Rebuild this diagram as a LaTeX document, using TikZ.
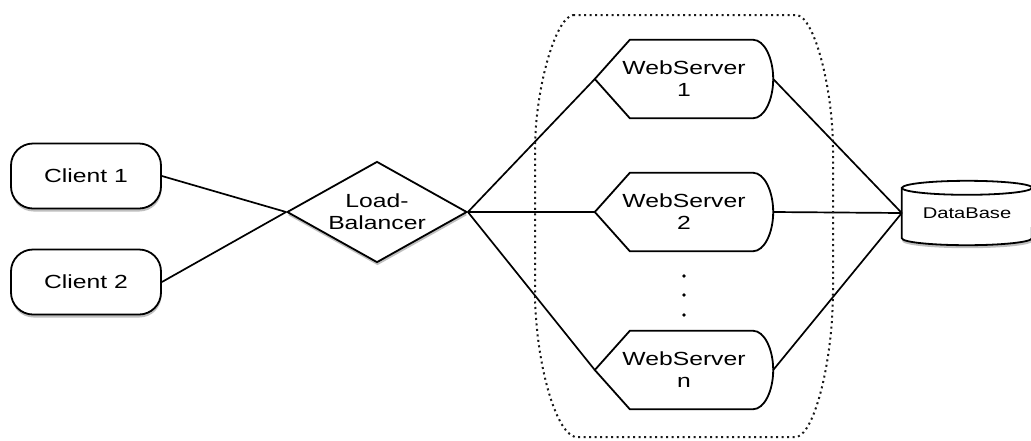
\documentclass[tikz,border=0pt]{standalone}
\usepackage{fontspec}
\setmainfont[FakeStretch=1.3]{Liberation Sans}
\usetikzlibrary{shapes.geometric,shadows,calc,backgrounds}

\tikzset{
  softshadow/.style={drop shadow={shadow xshift=0.5pt, shadow yshift=-3pt, opacity=0.25, fill=black}},
  label18/.style={font=\fontsize{19}{22}\selectfont, align=center, text=black},
  clientbox/.style={label18, draw, line width=1.8pt, rounded corners=22pt,
    minimum width=150pt, minimum height=65pt, fill=white, softshadow},
  balancer/.style={label18, draw, line width=1.8pt, diamond, aspect=1.78, inner sep=0pt,
    minimum width=180pt, minimum height=101pt, fill=white, softshadow},
  serverbox/.style={label18, inner sep=0pt, minimum width=178pt, minimum height=78pt},
  serverline/.style={draw, line width=1.8pt, fill=white},
  dbbox/.style={font=\fontsize{15.5}{18}\selectfont, inner sep=0pt, minimum width=130pt, minimum height=50pt},
  link/.style={line width=1.7pt, black},
  group/.style={line width=2pt, dash pattern=on 2pt off 3.5pt, black!90}
}

% outline of a web server: pointed left end, rounded right end
\newcommand\serveroutline[1]{%
  \path[serverline] (#1.west) -- ($(#1.north west)+(35,0)$) -- ($(#1.north east)+(-20,0)$)
    .. controls ($(#1.north east)+(-9,0)$) and ($(#1.east)+(0,-21)$) .. (#1.east)
    .. controls ($(#1.east)+(0,21)$) and ($(#1.south east)+(-9,0)$) .. ($(#1.south east)+(-20,0)$)
    -- ($(#1.south west)+(35,0)$) -- cycle;}

\begin{document}
\begin{tikzpicture}[x=1pt,y=-1pt]
\useasboundingbox (0,0) rectangle (1031,440);

% clients and balancer
\node[clientbox] (c1) at (86,176) {Client 1};
\node[clientbox] (c2) at (86,282) {Client 2};
\node[balancer] (lb) at (377,212) {Load-\\Balancer};

% web servers
\node[serverbox] (ws1) at (684,79) {WebServer\\1};
\node[serverbox] (ws2) at (684,212) {WebServer\\2};
\node[serverbox] (wsn) at (684,370) {WebServer\\n};

% database
\node[dbbox] (db) at (967,213) {DataBase};

\begin{scope}[on background layer]
  \serveroutline{ws1}
  \serveroutline{ws2}
  \serveroutline{wsn}
  \path[draw, line width=1.8pt, fill=white, softshadow]
    (db.north west) -- (db.south west)
    arc[start angle=180, end angle=0, x radius=65, y radius=7]
    -- (db.north east)
    arc[start angle=0, end angle=-180, x radius=65, y radius=7] -- cycle;
  \draw[line width=1.8pt] (db.north west) arc[start angle=180, end angle=0, x radius=65, y radius=7];
\end{scope}

% ellipsis between the servers
\fill (684,276) circle[radius=1.8];
\fill (684,295) circle[radius=1.8];
\fill (684,315) circle[radius=1.8];

% connectors
\draw[link] (c1.east) -- (lb.west);
\draw[link] (c2.east) -- (lb.west);
\draw[link] (lb.east) -- (ws1.west);
\draw[link] (lb.east) -- (ws2.west);
\draw[link] (lb.east) -- (wsn.west);
\draw[link] (ws1.east) -- (db.west);
\draw[link] (ws2.east) -- (db.west);
\draw[link] (wsn.east) -- (db.west);

% server group boundary
\draw[group] (573,15) -- (797,15)
  .. controls (815,18) and (833,90) .. (833,150) -- (833,290)
  .. controls (833,360) and (815,432) .. (797,437) -- (575,437)
  .. controls (555,432) and (535,360) .. (535,290) -- (535,150)
  .. controls (535,90) and (555,18) .. (573,15);
\end{tikzpicture}
\end{document}
